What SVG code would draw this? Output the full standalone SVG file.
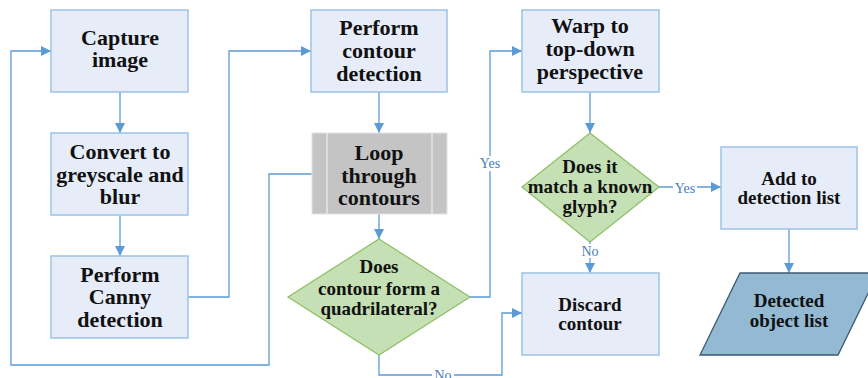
<svg xmlns="http://www.w3.org/2000/svg" width="868" height="378" viewBox="0 0 868 378">
<defs>
<marker id="arr" markerWidth="10" markerHeight="10" refX="10" refY="5" orient="auto" markerUnits="userSpaceOnUse">
<path d="M0,0 L10,5 L0,10 Z" fill="#5b9bd5"/>
</marker>
</defs>
<style>
.box{fill:#e6ecf8;stroke:#9dc3e6;stroke-width:1.5}
.dia{fill:#c5e0b4;stroke:#8cbf63;stroke-width:1.2}
text{font-family:"Liberation Serif","Times New Roman",Times,"DejaVu Serif",serif}
.t{font-weight:bold;fill:#111;text-anchor:middle}
.big{font-size:22px}
.sm{font-size:19px}
.c{fill:none;stroke:#5b9bd5;stroke-width:1.3}
.lab{font-size:14px;fill:#4a7ebb;text-anchor:middle}
.lbg{fill:#fff}
</style>
<rect width="868" height="378" fill="#fff"/>
<g id="connectors">
<path class="c" d="M120,92 V133" marker-end="url(#arr)"/>
<path class="c" d="M120,215 V256" marker-end="url(#arr)"/>
<path class="c" d="M188,297 H229 V51 H311" marker-end="url(#arr)"/>
<path class="c" d="M379,92 V133" marker-end="url(#arr)"/>
<path class="c" d="M312,174 H269 V365 H11 V51 H51" marker-end="url(#arr)"/>
<path class="c" d="M379,214 V239" marker-end="url(#arr)"/>
<path class="c" d="M470,297 H490 V51 H522" marker-end="url(#arr)"/>
<path class="c" d="M379,355 V375 H502 V313 H522" marker-end="url(#arr)"/>
<path class="c" d="M590,92 V133" marker-end="url(#arr)"/>
<path class="c" d="M659,187 H721" marker-end="url(#arr)"/>
<path class="c" d="M590,242 V273" marker-end="url(#arr)"/>
<path class="c" d="M789,229 V273" marker-end="url(#arr)"/>
<rect class="lbg" x="478" y="156" width="24" height="15"/>
<text class="lab" x="490" y="168">Yes</text>
<rect class="lbg" x="673" y="180" width="24" height="14"/>
<text class="lab" x="685" y="193">Yes</text>
<rect class="lbg" x="579" y="244" width="22" height="14"/>
<text class="lab" x="590" y="256">No</text>
<rect class="lbg" x="432" y="369" width="22" height="9"/>
<text class="lab" x="443" y="380">No</text>
</g>
<g id="capture">
<rect class="box" x="51" y="10" width="137" height="82"/>
<text class="t big" x="120" y="45">Capture</text>
<text class="t big" x="120" y="67">image</text>
</g>
<g id="convert">
<rect class="box" x="51" y="133" width="137" height="82"/>
<text class="t big" x="120" y="159">Convert to</text>
<text class="t big" x="120" y="182">greyscale and</text>
<text class="t big" x="120" y="204">blur</text>
</g>
<g id="canny">
<rect class="box" x="51" y="256" width="137" height="82"/>
<text class="t big" x="120" y="282">Perform</text>
<text class="t big" x="120" y="304">Canny</text>
<text class="t big" x="120" y="327">detection</text>
</g>
<g id="contour">
<rect class="box" x="311" y="10" width="136" height="82"/>
<text class="t big" x="379" y="35">Perform</text>
<text class="t big" x="379" y="58">contour</text>
<text class="t big" x="379" y="81">detection</text>
</g>
<g id="loop">
<rect x="312" y="133" width="135" height="81" fill="#c4c4c4" stroke="#e2e2e2" stroke-width="1"/>
<line x1="327" y1="133" x2="327" y2="214" stroke="#efefef" stroke-width="1.2"/>
<line x1="432" y1="133" x2="432" y2="214" stroke="#efefef" stroke-width="1.2"/>
<text class="t big" x="379" y="160">Loop</text>
<text class="t big" x="379" y="183">through</text>
<text class="t big" x="379" y="205">contours</text>
</g>
<g id="quad">
<polygon class="dia" points="379,239 470,297 379,355 288,297"/>
<text class="t sm" x="379" y="273">Does</text>
<text class="t sm" x="379" y="295">contour form a</text>
<text class="t sm" x="379" y="315">quadrilateral?</text>
</g>
<g id="warp">
<rect class="box" x="522" y="10" width="137" height="82"/>
<text class="t big" x="590" y="33">Warp to</text>
<text class="t big" x="590" y="56">top-down</text>
<text class="t big" x="590" y="79">perspective</text>
</g>
<g id="glyph">
<polygon class="dia" points="590,133 659,187 590,242 522,187"/>
<text class="t sm" x="590" y="173">Does it</text>
<text class="t sm" x="590" y="193">match a known</text>
<text class="t sm" x="590" y="213">glyph?</text>
</g>
<g id="discard">
<rect class="box" x="522" y="273" width="137" height="82"/>
<text class="t sm" x="590" y="311">Discard</text>
<text class="t sm" x="590" y="330">contour</text>
</g>
<g id="add">
<rect class="box" x="721" y="147" width="136" height="82"/>
<text class="t sm" x="789" y="185">Add to</text>
<text class="t sm" x="789" y="204">detection list</text>
</g>
<g id="detected">
<polygon points="740,273 878,273 838,355 700,355" fill="#93b9d3" stroke="#3d5a73" stroke-width="1.3"/>
<text class="t sm" x="789" y="307">Detected</text>
<text class="t sm" x="789" y="327">object list</text>
</g>
</svg>
